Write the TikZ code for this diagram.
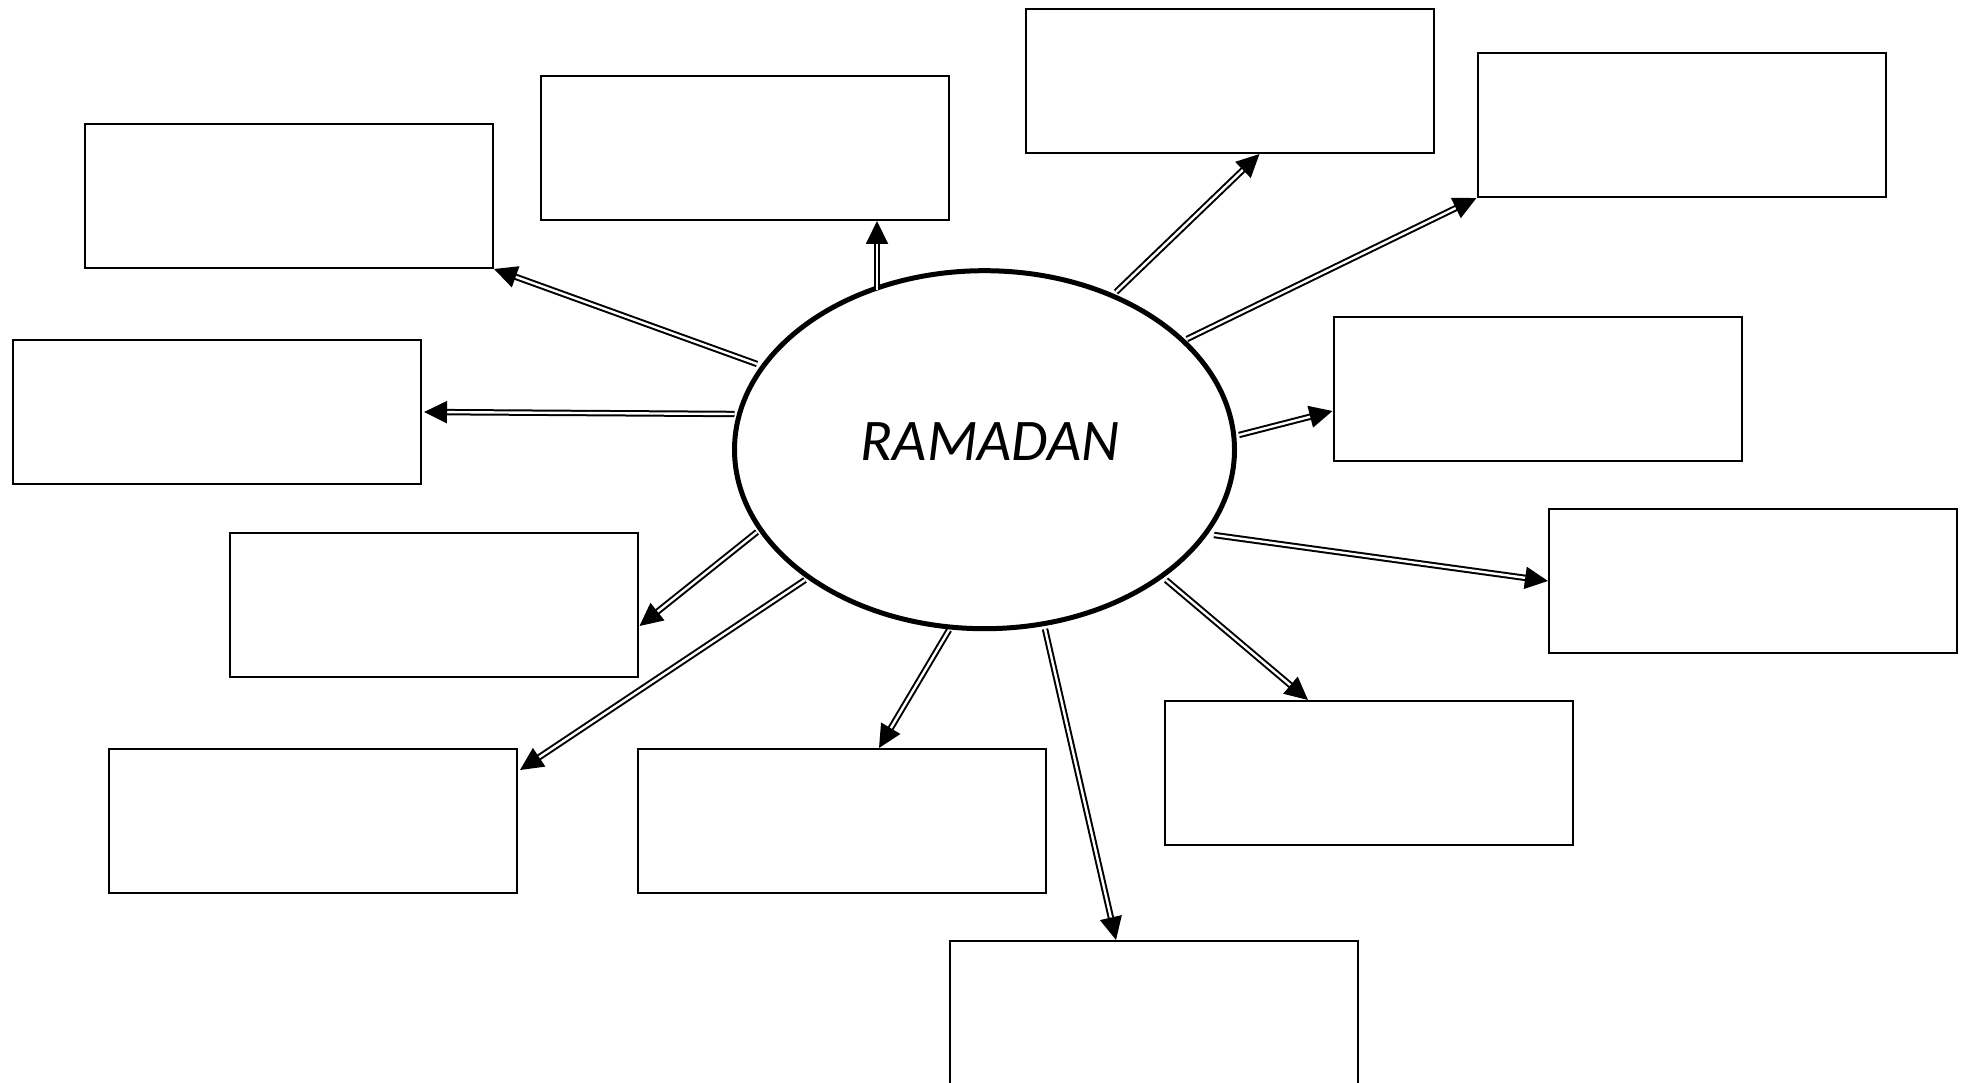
\documentclass[tikz,border=0pt]{standalone}
\usepackage{fontspec}
\setmainfont{Carlito}
\usetikzlibrary{arrows.meta,calc,shapes.geometric}
\begin{document}
\begin{tikzpicture}[x=1pt,y=-1pt,
  blank/.style={draw, line width=2pt, rectangle, minimum width=408pt, minimum height=144pt, inner sep=0pt},
  hub/.style={draw, line width=5pt, ellipse, minimum width=500pt, minimum height=358pt, inner sep=0pt},
  link/.style={double, line width=2pt, double distance=2.4pt, -{Triangle[length=23pt,width=22pt]}}]
\useasboundingbox (0,0) rectangle (1964,1083);
\clip (0,0) rectangle (1964,1083);
\fill[white] (0,0) rectangle (1964,1083);
\node[hub] (r) at (984.5,449.7) {};
\node[font=\fontsize{59}{61}\selectfont\itshape] (t) at (990,442) {RAMADAN};
\node[blank] (A) at (289,196) {};
\node[blank] (B) at (745,148) {};
\node[blank] (C) at (1229.5,81) {};
\node[blank] (D) at (1681.5,125) {};
\node[blank] (E) at (217,412) {};
\node[blank] (F) at (1537.5,389) {};
\node[blank] (G) at (433.5,605) {};
\node[blank] (H) at (1753,581) {};
\node[blank] (I) at (313,821) {};
\node[blank] (J) at (842,821) {};
\node[blank] (K) at (1369,773) {};
\node[blank] (L) at (1153.5,1013) {};
\draw[link] ($(r.center)+(-227.5,-85.7)$) -- (A.south east);
\draw[link] ($(r.center)+(-107.5,-159.7)$) -- ($(B.south)+(132,0)$);
\draw[link] ($(r.center)+(131.5,-157.7)$) -- ($(C.south)+(30,0)$);
\draw[link] ($(r.center)+(202.5,-110.7)$) -- (D.south west);
\draw[link] ($(r.center)+(-250,-35.7)$) -- ($(E.east)+(2,0)$);
\draw[link] ($(r.center)+(254.5,-14.7)$) -- ($(F.west)+(0,22)$);
\draw[link] ($(r.center)+(-227.5,82.3)$) -- ($(G.east)+(1,21)$);
\draw[link] ($(r.center)+(229.5,85.3)$) -- (H.west);
\draw[link] ($(r.center)+(-179.5,130.3)$) -- ($(I.east)+(2,-51)$);
\draw[link] ($(r.center)+(-35.5,180.3)$) -- ($(J.north)+(37,0)$);
\draw[link] ($(r.center)+(181.5,130.3)$) -- ($(K.north)+(-61,0)$);
\draw[link] ($(r.center)+(60.5,179.3)$) -- ($(L.north)+(-37.5,0)$);
\end{tikzpicture}
\end{document}
